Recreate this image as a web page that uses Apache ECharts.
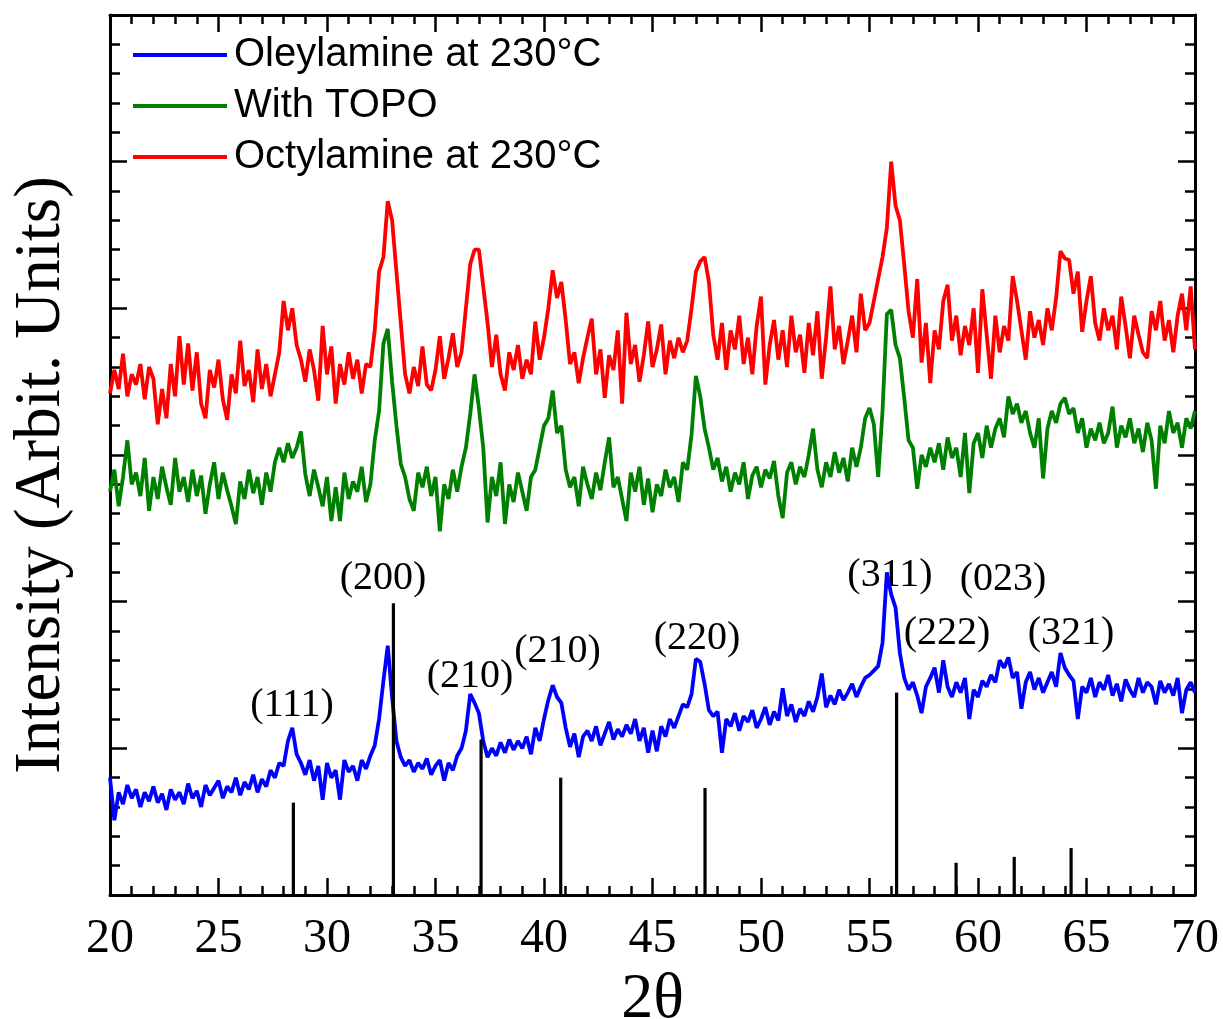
<!DOCTYPE html>
<html>
<head>
<meta charset="utf-8">
<title>XRD patterns</title>
<script src="https://cdn.jsdelivr.net/npm/echarts@6/dist/echarts.min.js"></script>
<style>
  html, body { margin: 0; padding: 0; background: #fff; }
  #chart { width: 1223px; height: 1019px; }
</style>
</head>
<body>
<div id="chart"></div>
<script>
// 2θ sampling grid: 20.0 .. 70.0 every 0.2 degree
const startAngle = 20
const angleStep = 0.2

// intensities (arbitrary units, curves already offset)
const oleylamine = [
  0.80, 0.51, 0.70, 0.62, 0.75,  0.66, 0.72, 0.60, 0.70, 0.64,
  0.74, 0.63, 0.69, 0.58, 0.72,  0.65, 0.70, 0.62, 0.76, 0.66,
  0.71, 0.60, 0.75, 0.68, 0.73,  0.78, 0.66, 0.74, 0.70, 0.80,
  0.68, 0.77, 0.72, 0.82, 0.70,  0.79, 0.74, 0.85, 0.80, 0.90,
  0.88, 1.05, 1.14, 0.96, 0.90,  0.82, 0.92, 0.78, 0.88, 0.65,
  0.90, 0.80, 0.85, 0.65, 0.92,  0.84, 0.88, 0.78, 0.92, 0.86,
  0.95, 1.02, 1.20, 1.46, 1.70,  1.35, 1.05, 0.94, 0.88, 0.92,
  0.84, 0.90, 0.86, 0.93, 0.82,  0.88, 0.92, 0.78, 0.90, 0.85,
  0.95, 1.00, 1.12, 1.37, 1.31,  1.24, 1.05, 0.94, 1.00, 0.95,
  1.04, 0.97, 1.06, 0.99, 1.05,  1.00, 1.08, 0.96, 1.14, 1.05,
  1.20, 1.33, 1.43, 1.35, 1.31,  1.14, 1.01, 1.10, 0.94, 1.08,
  1.12, 1.05, 1.15, 1.02, 1.10,  1.18, 1.06, 1.13, 1.08, 1.16,
  1.10, 1.20, 1.05, 1.14, 0.97,  1.12, 0.98, 1.15, 1.08, 1.20,
  1.14, 1.22, 1.30, 1.28, 1.37,  1.61, 1.59, 1.44, 1.26, 1.22,
  1.25, 0.97, 1.20, 1.15, 1.24,  1.12, 1.22, 1.18, 1.26, 1.14,
  1.20, 1.28, 1.16, 1.25, 1.19,  1.41, 1.22, 1.30, 1.18, 1.27,
  1.22, 1.32, 1.25, 1.35, 1.51,  1.28, 1.36, 1.30, 1.40, 1.33,
  1.38, 1.44, 1.35, 1.42, 1.48,  1.50, 1.53, 1.56, 1.72, 2.20,
  2.05, 1.96, 1.65, 1.48, 1.40,  1.45, 1.36, 1.24, 1.42, 1.48,
  1.55, 1.38, 1.60, 1.42, 1.35,  1.45, 1.38, 1.48, 1.20, 1.40,
  1.35, 1.46, 1.42, 1.50, 1.45,  1.60, 1.55, 1.62, 1.48, 1.52,
  1.27, 1.45, 1.52, 1.40, 1.48,  1.38, 1.45, 1.52, 1.42, 1.65,
  1.55, 1.50, 1.46, 1.20, 1.42,  1.38, 1.48, 1.35, 1.45, 1.40,
  1.50, 1.36, 1.44, 1.32, 1.47,  1.40, 1.35, 1.48, 1.38, 1.45,
  1.42, 1.30, 1.46, 1.38, 1.44,  1.36, 1.48, 1.24, 1.40, 1.45,
  1.38
]

const withTopo = [
  2.75, 2.90, 2.65, 2.85, 3.10,  2.80, 2.88, 2.72, 2.98, 2.62,
  2.85, 2.70, 2.92, 2.78, 2.66,  2.98, 2.75, 2.85, 2.68, 2.90,
  2.72, 2.86, 2.60, 2.80, 2.95,  2.70, 2.88, 2.76, 2.65, 2.53,
  2.82, 2.70, 2.90, 2.74, 2.85,  2.66, 2.88, 2.75, 2.95, 3.05,
  2.95, 3.08, 2.98, 3.05, 3.16,  2.87, 2.72, 2.90, 2.78, 2.65,
  2.85, 2.55, 2.78, 2.55, 2.88,  2.70, 2.82, 2.75, 2.92, 2.68,
  2.80, 3.10, 3.30, 3.76, 3.86,  3.50, 3.20, 2.94, 2.85, 2.70,
  2.62, 2.88, 2.78, 2.92, 2.72,  2.85, 2.48, 2.80, 2.70, 2.90,
  2.75, 2.92, 3.05, 3.28, 3.55,  3.32, 3.05, 2.54, 2.85, 2.72,
  2.95, 2.53, 2.80, 2.68, 2.88,  2.75, 2.62, 2.85, 2.90, 3.05,
  3.20, 3.25, 3.44, 3.15, 3.20,  2.90, 2.78, 2.85, 2.65, 2.92,
  2.80, 2.70, 2.88, 2.76, 2.95,  3.12, 2.78, 2.85, 2.70, 2.55,
  2.88, 2.75, 2.92, 2.66, 2.84,  2.61, 2.80, 2.72, 2.90, 2.78,
  2.85, 2.68, 2.95, 2.90, 3.14,  3.54, 3.40, 3.18, 3.05, 2.90,
  2.98, 2.82, 2.92, 2.75, 2.88,  2.80, 2.95, 2.70, 2.86, 2.92,
  2.78, 2.90, 2.84, 2.96, 2.72,  2.57, 2.88, 2.95, 2.80, 2.92,
  2.85, 3.00, 3.18, 2.90, 2.78,  2.95, 2.85, 3.02, 2.88, 2.98,
  2.82, 3.05, 2.92, 3.05, 3.25,  3.32, 3.21, 2.85, 3.30, 3.96,
  3.99, 3.75, 3.66, 3.39, 3.10,  3.05, 2.77, 3.00, 2.92, 3.05,
  2.95, 3.08, 2.90, 3.12, 2.98,  3.05, 2.85, 3.15, 2.74, 3.08,
  3.15, 2.98, 3.20, 3.05, 3.18,  3.25, 3.12, 3.40, 3.28, 3.35,
  3.22, 3.30, 3.15, 3.05, 3.25,  2.84, 3.18, 3.30, 3.22, 3.35,
  3.39, 3.28, 3.32, 3.15, 3.25,  3.05, 3.18, 3.10, 3.22, 3.08,
  3.15, 3.33, 3.05, 3.20, 3.12,  3.25, 3.08, 3.18, 3.02, 3.22,
  3.10, 2.77, 3.20, 3.08, 3.30,  3.15, 3.22, 3.05, 3.25, 3.18,
  3.30
]

const octylamine = [
  3.42, 3.58, 3.45, 3.69, 3.40,  3.55, 3.48, 3.62, 3.38, 3.60,
  3.52, 3.21, 3.45, 3.25, 3.62,  3.40, 3.81, 3.48, 3.76, 3.44,
  3.70, 3.35, 3.25, 3.58, 3.46,  3.65, 3.38, 3.24, 3.55, 3.42,
  3.78, 3.47, 3.58, 3.36, 3.72,  3.45, 3.62, 3.40, 3.55, 3.70,
  4.05, 3.85, 4.00, 3.75, 3.65,  3.50, 3.72, 3.58, 3.37, 3.88,
  3.55, 3.74, 3.35, 3.62, 3.48,  3.70, 3.52, 3.65, 3.42, 3.62,
  3.60, 3.85, 4.25, 4.35, 4.73,  4.60, 4.25, 3.90, 3.55, 3.42,
  3.60, 3.47, 3.74, 3.48, 3.44,  3.58, 3.81, 3.52, 3.66, 3.83,
  3.60, 3.70, 4.00, 4.30, 4.40,  4.40, 4.15, 3.90, 3.60, 3.82,
  3.55, 3.44, 3.70, 3.58, 3.75,  3.52, 3.65, 3.55, 3.91, 3.65,
  3.80, 4.00, 4.26, 4.07, 4.18,  3.92, 3.62, 3.70, 3.49, 3.66,
  3.80, 3.93, 3.55, 3.72, 3.39,  3.68, 3.58, 3.85, 3.35, 3.97,
  3.62, 3.75, 3.50, 3.68, 3.91,  3.60, 3.72, 3.89, 3.55, 3.78,
  3.66, 3.80, 3.70, 3.78, 4.00,  4.25, 4.32, 4.35, 4.18, 3.82,
  3.65, 3.90, 3.58, 3.85, 3.72,  3.95, 3.62, 3.80, 3.55, 3.88,
  4.08, 3.48, 3.75, 3.92, 3.65,  3.85, 3.60, 3.95, 3.70, 3.82,
  3.56, 3.90, 3.68, 3.98, 3.52,  3.80, 4.15, 3.72, 3.88, 3.62,
  3.78, 3.95, 3.70, 4.10, 3.85,  3.90, 4.05, 4.20, 4.35, 4.55,
  5.00, 4.70, 4.60, 4.30, 3.98,  3.80, 4.20, 3.63, 3.90, 3.49,
  3.85, 3.72, 4.05, 4.16, 3.78,  3.95, 3.68, 3.88, 3.75, 4.00,
  3.56, 4.13, 3.82, 3.52, 3.95,  3.70, 3.88, 3.78, 4.22, 4.05,
  3.85, 3.65, 3.98, 3.80, 3.92,  3.75, 4.00, 3.85, 4.07, 4.39,
  4.34, 4.33, 4.10, 4.25, 3.84,  4.05, 4.22, 3.90, 3.78, 4.00,
  3.85, 3.95, 3.72, 4.08, 3.88,  3.66, 3.95, 3.82, 3.70, 3.66,
  3.98, 3.85, 4.05, 3.78, 3.92,  3.70, 3.95, 4.10, 3.85, 4.15,
  3.72
]

// reference (standard) pattern sticks
const refPeaks = [28.45, 33.06, 37.10, 40.77, 47.42, 56.25, 58.99, 61.67, 64.29]
const refHeights = [0.63, 1.99, 1.06, 0.80, 0.73, 1.38, 0.22, 0.26, 0.32]

// Miller index labels and where they sit (data coords)
const hklLabels = ['(111)', '(200)', '(210)', '(210)', '(220)', '(311)', '(222)', '(023)', '(321)']
const hklX = [28.39, 32.58, 36.59, 40.62, 47.05, 55.94, 58.57, 61.15, 64.29]
const hklY = [1.29, 2.16, 1.49, 1.66, 1.75, 2.18, 1.78, 2.15, 1.78]

const toPairs = ys => ys.map((y, i) => [+(startAngle + i * angleStep).toFixed(1), y])

const serif = 'Liberation Serif'
const sans = 'Liberation Sans'

const tickStyle = { color: '#000', width: 2.5 }

const makeX = (pos, withLabels) => ({
  type: 'value',
  position: pos,
  min: 20,
  max: 70,
  interval: 5,
  axisLine: { onZero: false, lineStyle: { color: '#000', width: 3 } },
  axisTick: { inside: true, length: 17, lineStyle: tickStyle },
  minorTick: { show: true, splitNumber: 5, length: 9, lineStyle: tickStyle },
  splitLine: { show: false },
  axisLabel: withLabels
    ? { fontFamily: serif, fontSize: 48, color: '#000', margin: 20 }
    : { show: false },
  name: withLabels ? '2θ' : '',
  nameLocation: 'middle',
  nameGap: 68,
  nameTextStyle: { fontFamily: serif, fontSize: 64, color: '#000' }
})

const makeY = (pos, withName) => ({
  type: 'value',
  position: pos,
  min: 0,
  max: 6,
  interval: 1,
  axisLine: { onZero: false, lineStyle: { color: '#000', width: 3 } },
  axisTick: { inside: true, length: 17, lineStyle: tickStyle },
  minorTick: { show: true, splitNumber: 5, length: 10, lineStyle: tickStyle },
  splitLine: { show: false },
  axisLabel: { show: false },
  name: withName ? 'Intensity (Arbit. Units)' : '',
  nameLocation: 'middle',
  nameGap: 36,
  nameTextStyle: { fontFamily: serif, fontSize: 65, color: '#000', padding: [0, 40, 0, 0] }
})

const curve = (name, color, ys) => ({
  name: name,
  type: 'line',
  data: toPairs(ys),
  showSymbol: false,
  symbol: 'none',
  color: color,
  lineStyle: { color: color, width: 3.8 },
  animation: false
})

const chart = echarts.init(document.getElementById('chart'))

chart.setOption({
  backgroundColor: '#fff',
  animation: false,
  grid: { left: 110, right: 28, top: 15, bottom: 124, outerBoundsMode: 'none', containLabel: false },
  legend: {
    data: ['Oleylamine at 230°C', 'With TOPO', 'Octylamine at 230°C'],
    orient: 'vertical',
    left: 128,
    top: 30,
    icon: 'rect',
    itemWidth: 94,
    itemHeight: 4,
    itemGap: 11,
    textStyle: { fontFamily: sans, fontSize: 40, color: '#000', lineHeight: 40, padding: [0, 0, 0, 2] }
  },
  xAxis: [makeX('bottom', true), makeX('top', false)],
  yAxis: [makeY('left', true), makeY('right', false)],
  series: [
    curve('Oleylamine at 230°C', '#0000ff', oleylamine),
    curve('With TOPO', '#008000', withTopo),
    curve('Octylamine at 230°C', '#ff0000', octylamine),
    {
      name: 'reference',
      type: 'custom',
      data: refPeaks.map((x, i) => [x, refHeights[i]]),
      renderItem: (params, api) => {
        const base = api.coord([api.value(0), 0])
        const tip = api.coord([api.value(0), api.value(1)])
        return {
          type: 'line',
          shape: { x1: base[0], y1: base[1], x2: tip[0], y2: tip[1] },
          style: { stroke: '#000', lineWidth: 3.2 }
        }
      },
      z: 5,
      animation: false
    },
    {
      name: 'hkl',
      type: 'scatter',
      symbolSize: 0,
      itemStyle: { opacity: 1 },
      data: hklLabels.map((t, i) => ({ name: t, value: [hklX[i], hklY[i]] })),
      label: {
        show: true,
        position: 'inside',
        formatter: '{b}',
        fontFamily: serif,
        fontSize: 40,
        color: '#000',
        opacity: 1
      },
      silent: true,
      animation: false
    }
  ]
})
</script>
</body>
</html>
